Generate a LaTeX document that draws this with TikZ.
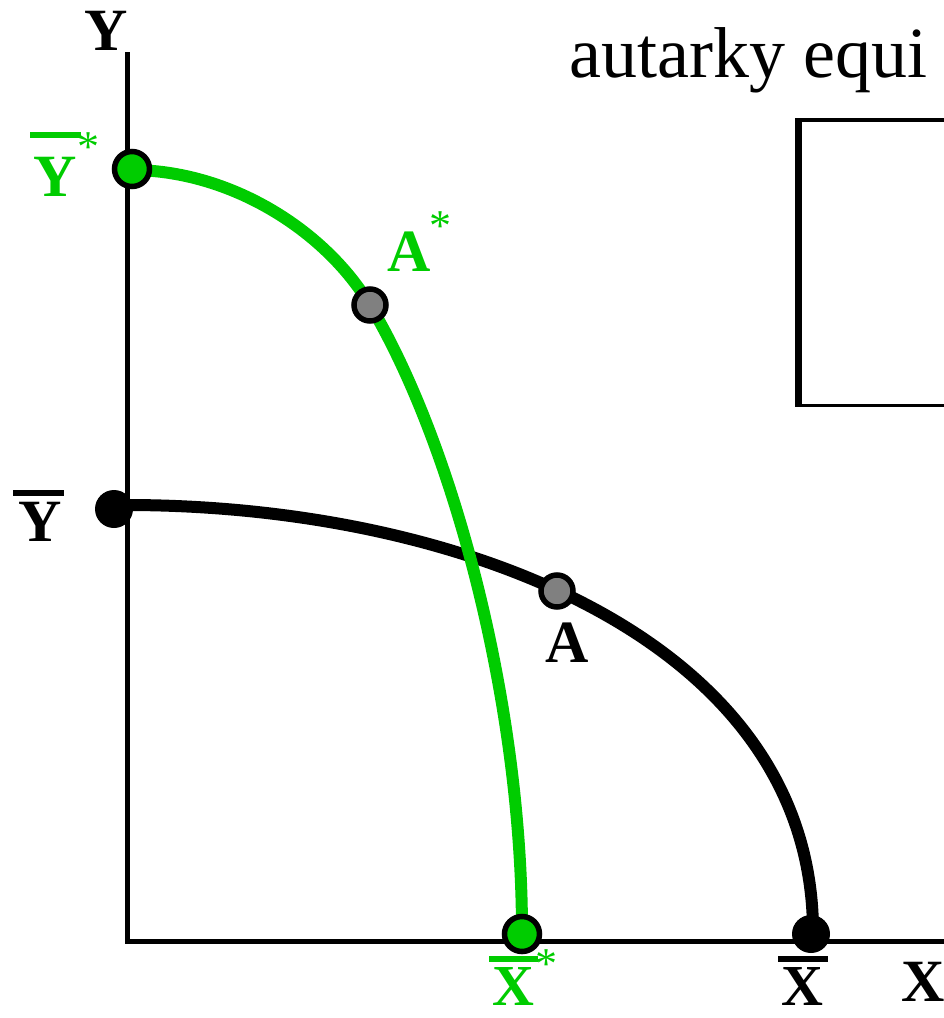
\documentclass[tikz,border=0pt]{standalone}
\usepackage{fontspec}
\setmainfont{Liberation Serif}
\definecolor{ppfgreen}{RGB}{0,204,0}
\definecolor{ptgray}{RGB}{128,128,128}
\begin{document}
\begin{tikzpicture}[x=1pt,y=-1pt,
  axis/.style={line width=5pt},
  ppf/.style={line width=12pt},
  lbl/.style={font=\fontsize{60}{60}\selectfont\bfseries, inner sep=0pt},
  lblb/.style={font=\fontsize{58}{58}\selectfont\bfseries, inner sep=0pt},
  starlbl/.style={font=\fontsize{44}{44}\selectfont, inner sep=0pt, text=ppfgreen},
  barline/.style={line width=6pt},
  dotgreen/.style={circle, fill=ppfgreen, draw=black, line width=5.5pt, minimum size=35pt, inner sep=0pt},
  dotgray/.style={circle, fill=ptgray, draw=black, line width=5.5pt, minimum size=32pt, inner sep=0pt},
  dotblack/.style={circle, fill=black, minimum size=38pt, inner sep=0pt},
  title/.style={font=\fontsize{72}{72}\selectfont, inner sep=0pt, anchor=base west}
]
\useasboundingbox (0,0) rectangle (944,1018);

% axes
\coordinate (ytop) at (127,52);
\coordinate (origin) at (127,941);
\coordinate (xend) at (944,941);
\draw[axis] (ytop) -- (origin) -- (xend);

% title and box
\node[title] (ttl) at (569,77) {autarky equi};
\coordinate (b1) at (944,120);
\coordinate (b2) at (798,120);
\coordinate (b3) at (798,405.5);
\coordinate (b4) at (944,405.5);
\draw[line width=3.5pt] (b1) -- (b2) -- (b3) -- (b4);
\draw[line width=7pt] ([yshift=1.75pt]b2) -- ([yshift=-1.75pt]b3);

% curves
\coordinate (ystart) at (126,505);
\coordinate (xendb) at (813,932);
\draw[ppf] (ystart) .. controls (460,505) and (813,640) .. (xendb);
\coordinate (ysg) at (131,170);
\coordinate (asg) at (370,305);
\coordinate (xsg) at (522,932);
\draw[ppf, ppfgreen] (ysg) .. controls (230,170) and (325,230) .. (asg)
   .. controls (452,442) and (522,700) .. (xsg);

% dots
\node[dotgreen] (dYs) at (132,169) {};
\node[dotgray] (dAs) at (370,305) {};
\node[dotgreen] (dXs) at (522,934) {};
\node[dotblack] (dY) at (114,509) {};
\node[dotgray] (dA) at (557,591) {};
\node[dotblack] (dX) at (811,934) {};

% labels
\node[lbl] (ylab) at (106,31) {Y};
\node[lbl] (xlab) at (923,982) {X};

\node[lbl, text=ppfgreen] (lYs) at (55.5,177) {Y};
\draw[barline, ppfgreen] (30,135) -- (81,135);
\node[starlbl] (sYs) at (88,147) {*};

\node[lbl] (lY) at (40,522) {Y};
\draw[barline] (13,492.5) -- (64,492.5);

\node[lbl, text=ppfgreen] (lAs) at (409,252) {A};
\node[starlbl] (sAs) at (440,226) {*};

\node[lbl] (lA) at (567,643) {A};

\node[lblb, text=ppfgreen] (lXs) at (513,986) {X};
\draw[barline, ppfgreen] (489,959) -- (538,959);
\node[starlbl] (sXs) at (546,964) {*};

\node[lblb] (lX) at (802,986) {X};
\draw[barline] (778,959) -- (828,959);
\end{tikzpicture}
\end{document}
